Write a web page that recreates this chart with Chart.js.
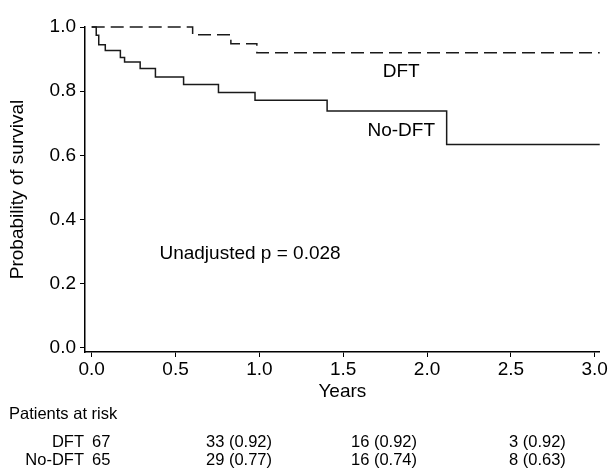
<!DOCTYPE html>
<html>
<head>
<meta charset="utf-8">
<script src="https://cdn.jsdelivr.net/npm/chart.js@4"></script>
<style>
  html, body { margin: 0; padding: 0; background: #fff; }
  #wrap { position: relative; width: 609px; height: 468px; }
</style>
</head>
<body>
<div id="wrap"><canvas id="c" width="609" height="468"></canvas></div>
<script>
// ---- data ----
const dftTimes    = [0, 0.602, 0.830, 0.985, 3.03];
const dftSurv     = [1, 0.976, 0.948, 0.920, 0.920];
const noDftTimes  = [0, 0.027, 0.042, 0.081, 0.171, 0.196, 0.289, 0.380, 0.548, 0.756, 0.974, 1.404, 2.117, 3.03];
const noDftSurv   = [1, 0.974, 0.945, 0.927, 0.905, 0.891, 0.871, 0.844, 0.821, 0.796, 0.772, 0.738, 0.634, 0.634];
const xTicks      = [0, 0.5, 1.0, 1.5, 2.0, 2.5, 3.0];
const yTicks      = [0, 0.2, 0.4, 0.6, 0.8, 1.0];
const riskGroups  = ['DFT', 'No-DFT'];
const riskStart   = [67, 65];
const riskCounts  = [[33, 16, 3], [29, 16, 8]];
const riskSurv    = [[0.92, 0.92, 0.92], [0.77, 0.74, 0.63]];
const pLabel      = 'Unadjusted p = 0.028';

const FAM = "'Liberation Sans Narrow', 'Arial Narrow', 'Liberation Sans', Arial, sans-serif";
const tickFont = { family: FAM, size: 19 };
const riskFont = { family: FAM, size: 16.5 };

function pts(t, s) { return t.map((v, i) => ({ x: v, y: s[i] })); }

const annot = {
  id: 'annot',
  afterDraw(chart) {
    const { ctx, scales: { x, y } } = chart;
    ctx.save();
    ctx.fillStyle = '#000';
    ctx.font = `${tickFont.size}px ${FAM}`;
    ctx.textBaseline = 'middle';
    ctx.textAlign = 'center';
    ctx.fillText('DFT', x.getPixelForValue(1.846), y.getPixelForValue(0.862));
    ctx.fillText('No-DFT', x.getPixelForValue(1.846), y.getPixelForValue(0.678));
    ctx.textAlign = 'left';
    ctx.fillText(pLabel, x.getPixelForValue(0.404), y.getPixelForValue(0.294));

    // patients at risk table
    ctx.font = `${riskFont.size}px ${FAM}`;
    ctx.textAlign = 'left';
    ctx.fillText('Patients at risk', 9, 414);
    const rowY = [442, 460.5];
    const colLeft = [206, 351, 509];
    riskGroups.forEach((g, r) => {
      ctx.textAlign = 'right';
      ctx.fillText(g, 84, rowY[r]);
      ctx.textAlign = 'left';
      ctx.fillText(String(riskStart[r]), 92, rowY[r]);
      riskCounts[r].forEach((n, c) => {
        ctx.fillText(`${n} (${riskSurv[r][c].toFixed(2)})`, colLeft[c], rowY[r]);
      });
    });
    ctx.restore();
  }
};

new Chart(document.getElementById('c'), {
  type: 'line',
  data: {
    datasets: [
      {
        label: 'DFT',
        data: pts(dftTimes, dftSurv),
        stepped: 'before',
        borderColor: '#1a1a1a',
        borderWidth: 1.5,
        borderDash: [13, 6],
        pointRadius: 0,
        fill: false
      },
      {
        label: 'No-DFT',
        data: pts(noDftTimes, noDftSurv),
        stepped: 'before',
        borderColor: '#1a1a1a',
        borderWidth: 1.5,
        pointRadius: 0,
        fill: false
      }
    ]
  },
  options: {
    responsive: false,
    animation: false,
    events: [],
    layout: { padding: { left: 0, right: 9, top: 27, bottom: 65 } },
    plugins: { legend: { display: false }, tooltip: { enabled: false } },
    elements: { line: { tension: 0 } },
    clip: false,
    scales: {
      x: {
        type: 'linear',
        min: -0.04,
        max: 3.03,
        afterBuildTicks: s => { s.ticks = xTicks.map(v => ({ value: v })); },
        afterFit: s => { s.height = 51; },
        ticks: { callback: v => Number(v).toFixed(1), font: tickFont, color: '#000', padding: 1, maxRotation: 0, autoSkip: false },
        grid: { drawOnChartArea: false, drawTicks: true, tickLength: 5, color: '#000', lineWidth: 1 },
        border: { display: true, color: '#000', width: 1.5 },
        title: { display: true, text: 'Years', font: tickFont, color: '#000', padding: { top: 0, bottom: 0 } }
      },
      y: {
        type: 'linear',
        min: -0.0125,
        max: 1.0,
        afterBuildTicks: s => { s.ticks = yTicks.map(v => ({ value: v })); },
        afterFit: s => { s.width = 85; },
        ticks: { callback: v => Number(v).toFixed(1), font: tickFont, color: '#000', padding: 4, autoSkip: false },
        grid: { drawOnChartArea: false, drawTicks: true, tickLength: 5, color: '#000', lineWidth: 1 },
        border: { display: true, color: '#000', width: 1.5 },
        title: { display: true, text: 'Probability of survival', font: tickFont, color: '#000', padding: { top: 6, bottom: 0 } }
      }
    }
  },
  plugins: [annot]
});
</script>
</body>
</html>
